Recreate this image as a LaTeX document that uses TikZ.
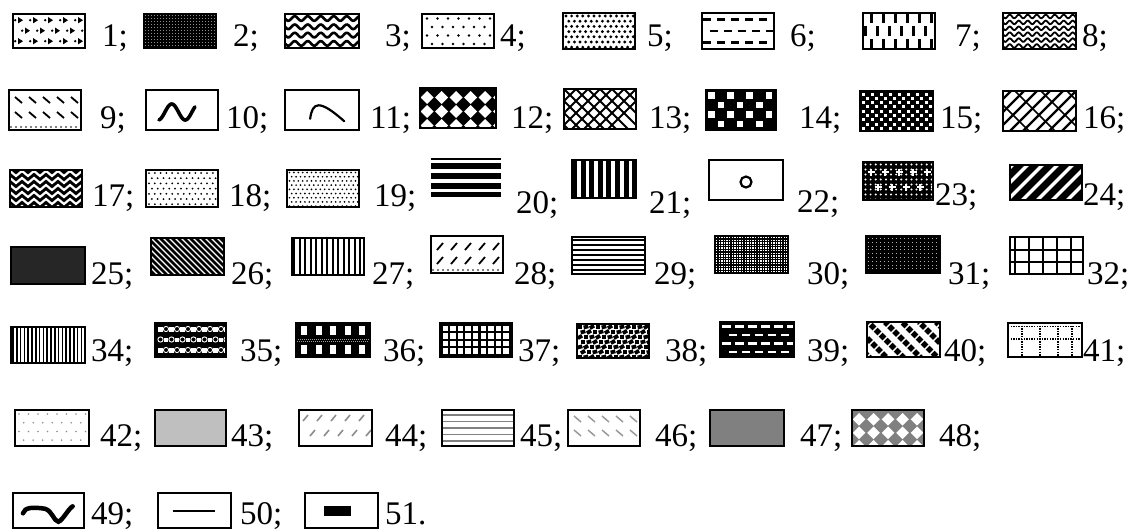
\documentclass[tikz,border=0pt]{standalone}
\usepackage{fontspec}
\setmainfont{Liberation Serif}
\tikzset{
  bline/.style={line width=2.6pt},
  thinline/.style={line width=1.8pt},
  lab/.style={anchor=base west, inner sep=0pt, outer sep=0pt, font=\fontsize{33}{33}\selectfont},
}
% #1 border style, #2 name, #3 x, #4 y(top), #5 w, #6 h, #7 pattern
\newcommand{\legbox}[7][bline]{%
  \begin{scope}[shift={(#3,#4)}]
    \def\W{#5}\def\H{#6}%
    \begin{scope}
      \clip (0,0) rectangle (#5,#6);
      \fill[white] (0,0) rectangle (#5,#6);
      #7
    \end{scope}
    \draw[#1] (0,0) rectangle (#5,#6);
    \coordinate (#2) at (0,0);
  \end{scope}}
\begin{document}
\begin{tikzpicture}[x=1pt,y=-1pt]
\useasboundingbox (0,0) rectangle (1145,531);
\fill[white] (0,0) rectangle (1145,531);
% ---------------- Row 1
\legbox{b1}{13}{14}{72}{34}{%
  \foreach \i in {0,...,4}{\foreach \j in {0,...,2}{
    \fill ({5+\i*15+mod(\j,2)*7},{3+\j*10.5}) -- ++(5,3.2) -- ++(-5,3.2) -- cycle;
    \fill ({2.2+\i*15+mod(\j,2)*7},{6.2+\j*10.5}) circle (1.3);}}}
\node[lab] (t1) at (102,46) {1;};
\legbox{b2}{144}{14}{72}{34}{%
  \fill (0,0) rectangle (\W,\H);
  \foreach \i in {0,...,24}{\foreach \j in {0,...,11}{
    \fill[white!55!black] ({1+\i*3},{1+\j*3}) rectangle ++(1.3,1.3);}}}
\node[lab] (t2) at (233,46) {2;};
\legbox{b3}{285}{14}{74}{34}{%
  \foreach \j in {0,...,3}{\draw[line width=2.6] plot[domain=-2:80,samples=70,smooth] (\x,{4.5+\j*8.3+2.3*sin(\x*27.69)});}}
\node[lab] (t3) at (385,46) {3;};
\legbox{b4}{422}{14}{72}{34}{%
  \foreach \i in {0,...,6}{\foreach \j in {0,...,3}{
    \fill ({5+\i*10.5+mod(\j,2)*5},{4.5+\j*8.5}) circle (1.3);}}}
\node[lab] (t4) at (500,46) {4;};
\legbox{b5}{563}{13}{72}{36}{%
  \foreach \i in {0,...,12}{\foreach \j in {0,...,6}{
    \fill ({3+\i*5.6+mod(\j,2)*2.8},{3+\j*5.2}) circle (1.6);}}}
\node[lab] (t5) at (647,46) {5;};
\legbox{b6}{702}{13}{72}{36}{%
  \foreach \j/\o in {0/0,1/7,2/0}{\foreach \i in {0,...,5}{
    \fill ({\o+1+\i*14},{5+\j*11.5}) rectangle ++(8,2.8);}}}
\node[lab] (t6) at (790,46) {6;};
\legbox{b7}{863}{13}{72}{36}{%
  \foreach \i in {0,...,5}{
    \fill ({7+\i*12},0) rectangle ++(2.8,10);
    \fill ({1+\i*12},13) rectangle ++(2.8,10);
    \fill ({7+\i*12},26) rectangle ++(2.8,10);}}
\node[lab] (t7) at (955,46) {7;};
\legbox{b8}{1003}{13}{73}{36}{%
  \foreach \j in {0,...,5}{\draw[line width=1.8] plot[domain=-2:80,samples=80,smooth] (\x,{3.5+\j*5.9+1.8*sin(\x*40)});}}
\node[lab] (t8) at (1082,46) {8;};
% ---------------- Row 2
\legbox{b9}{9}{90}{72}{40}{%
  \foreach \i in {0,...,4}{\foreach \j in {0,1}{
    \draw[line width=1.8] ({6+\i*14},{7+\j*15}) -- ++(7,6);}}
  \foreach \i in {0,...,14}{\fill ({2+\i*5},{\H-3}) circle (0.9);}}
\node[lab] (t9) at (100,128) {9;};
\legbox{b10}{146}{90}{72}{40}{%
  \draw[line width=3.6, line cap=round] plot[domain=-80:400,samples=60,smooth] ({0.18*\W+0.5*\W*((\x+80)/480)},{0.55*\H-0.2*\H*sin(\x)});}
\node[lab] (t10) at (226,128) {10;};
\legbox{b11}{285}{90}{74}{40}{%
  \draw[line width=2.2, line cap=round] ({0.34*\W},{0.72*\H}) .. controls ({0.37*\W},{0.3*\H}) and ({0.46*\W},{0.22*\H}) .. ({0.8*\W},{0.78*\H});}
\node[lab] (t11) at (370,128) {11;};
\legbox{b12}{420}{88}{76}{40}{%
  \fill (0,0) rectangle (\W,\H);
  \foreach \i in {0,...,5}{\foreach \j in {0,...,2}{
    \fill[white] ({7+\i*14.5},{3+\j*14}) -- ++(6.5,6.5) -- ++(-6.5,6.5) -- ++(-6.5,-6.5) -- cycle;}}}
\node[lab] (t12) at (511,128) {12;};
\legbox{b13}{564}{89}{72}{40}{%
  \foreach \k in {-48,-36,...,84}{\draw[line width=2] (\k,0) -- ++(45,45); \draw[line width=2] (\k,0) -- ++(-45,45);}}
\node[lab] (t13) at (649,128) {13;};
\legbox{b14}{706}{90}{70}{40}{%
  \fill (0,0) rectangle (\W,\H);
  \foreach \i in {0,...,7}{\foreach \j in {0,...,4}{
    \pgfmathtruncatemacro\m{mod(\i+\j,2)}
    \ifnum\m=0 \fill[white] ({2+\i*9.6},{2+\j*9.5}) rectangle ++(6.5,6.5);\fi}}}
\node[lab] (t14) at (799,128) {14;};
\legbox{b15}{860}{91}{73}{40}{%
  \fill (0,0) rectangle (\W,\H);
  \foreach \i in {0,...,16}{\foreach \j in {0,...,9}{
    \pgfmathtruncatemacro\m{mod(\i+\j,2)}
    \ifnum\m=0 \fill[white] ({1.5+\i*4.5},{1.5+\j*4.3}) rectangle ++(3,3);\fi}}}
\node[lab] (t15) at (940,128) {15;};
\legbox{b16}{1003}{91}{73}{40}{%
  \foreach \k in {-45,-32,...,80}{\draw[line width=2.2] (\k,\H) -- ++(45,-45);}
  \foreach \k in {-40,-14,...,100}{\draw[line width=1.5] (\k,0) -- ++(45,45);}}
\node[lab] (t16) at (1083,128) {16;};
% ---------------- Row 3
\legbox{b17}{10}{170}{72}{37}{%
  \fill (0,0) rectangle (\W,\H);
  \foreach \j in {0,...,5}{\draw[white,line width=2.2] (0,{1+\j*7}) \foreach \i in {1,...,13}{ -- ({\i*6},{1+\j*7+mod(\i,2)*5})};}}
\node[lab] (t17) at (92,206) {17;};
\legbox{b18}{146}{170}{72}{37}{%
  \foreach \i in {0,...,12}{\foreach \j in {0,...,6}{
    \fill ({3+\i*5.8+mod(\j,2)*2.9},{3+\j*5.2}) circle (1.0);}}}
\node[lab] (t18) at (229,206) {18;};
\legbox{b19}{287}{170}{72}{37}{%
  \foreach \i in {0,...,16}{\foreach \j in {0,...,8}{
    \fill ({2.5+\i*4.4+mod(\j,2)*2.2},{2.5+\j*4.2}) circle (0.95);}}}
\node[lab] (t19) at (374,206) {19;};
\legbox[draw=none]{b20}{431}{158}{70}{39}{%
  \fill (0,0) rectangle (\W,\H);
  \foreach \y/\h in {1.5/3.5,10.5/4.5,20.5/4.5,30.5/3.5}{\fill[white] (0,\y) rectangle (\W,{\y+\h});}}
\node[lab] (t20) at (516,213) {20;};
\legbox{b21}{572}{160}{64}{38}{%
  \foreach \i in {0,...,7}{\fill ({\i*8.6},0) rectangle ++(5,\H);}}
\node[lab] (t21) at (649,213) {21;};
\legbox[thinline]{b22}{709}{160}{74}{40}{%
  \draw[line width=2.2] ({0.5*\W},{0.55*\H}) circle (5.5);}
\node[lab] (t22) at (797,212) {22;};
\legbox{b23}{863}{162}{70}{38}{%
  \fill (0,0) rectangle (\W,\H);
  \foreach \i in {0,...,13}{\foreach \j in {0,...,7}{
    \fill[white] ({2.5+\i*5.1},{2.5+\j*5}) circle (1.1);}}
  \foreach \i in {0,...,4}{\foreach \j in {0,1}{
    \draw[white,line width=1.6] ({8+\i*14+mod(\j,2)*7-3.5},{10+\j*15}) -- ++(7,0) ({8+\i*14+mod(\j,2)*7},{6.5+\j*15}) -- ++(0,7);}}}
\node[lab] (t23) at (935,205) {23;};
\legbox{b24}{1010}{165}{72}{35}{%
  \foreach \k in {-45,-30,...,90}{\draw[line width=7] (\k,{\H+5}) -- ++(50,-50);}}
\node[lab] (t24) at (1083,205) {24;};
% ---------------- Row 4
\legbox{b25}{11}{247}{74}{37}{%
  \fill[black!85] (0,0) rectangle (\W,\H);}
\node[lab] (t25) at (91,284) {25;};
\legbox{b26}{151}{238}{73}{37}{%
  \foreach \k in {-45,-39,...,80}{\draw[line width=2.8] (\k,0) -- ++(45,45);}}
\node[lab] (t26) at (231,284) {26;};
\legbox{b27}{292}{238}{72}{37}{%
  \foreach \x in {2,7.5,...,75}{\draw[line width=2] (\x,0) -- (\x,\H);}}
\node[lab] (t27) at (372,284) {27;};
\legbox{b28}{431}{236}{72}{37}{%
  \foreach \i in {0,...,4}{\foreach \j in {0,1}{
    \draw[line width=1.8] ({6+\i*14},{14+\j*14}) -- ++(6,-7);}}
  \foreach \i in {0,...,14}{\fill ({2+\i*5},{\H-3}) circle (0.9);}}
\node[lab] (t28) at (514,284) {28;};
\legbox{b29}{572}{237}{73}{37}{%
  \foreach \y in {3,8,...,36}{\draw[line width=2.6] (0,\y) -- (\W,\y);}}
\node[lab] (t29) at (654,284) {29;};
\legbox{b30}{715}{236}{73}{37}{%
  \fill (0,0) rectangle (\W,\H);
  \foreach \i in {0,...,28}{\foreach \j in {0,...,14}{
    \fill[white] ({1+\i*2.6},{1+\j*2.6}) rectangle ++(1.4,1.4);}}}
\node[lab] (t30) at (807,284) {30;};
\legbox{b31}{866}{236}{74}{37}{%
  \fill (0,0) rectangle (\W,\H);
  \foreach \i in {0,...,18}{\foreach \j in {0,...,9}{
    \fill[white!70!black] ({2+\i*4},{2+\j*3.8}) rectangle ++(0.9,0.9);}}}
\node[lab] (t31) at (948,284) {31;};
\legbox{b32}{1010}{237}{73}{37}{%
  \foreach \x in {5,19,...,75}{\draw[line width=1.5] (\x,0) -- (\x,\H);}
  \foreach \y in {13,25}{\draw[line width=1.5] (0,\y) -- (\W,\y);}}
\node[lab] (t32) at (1087,284) {32;};
% ---------------- Row 5
\legbox{b34}{11}{327}{74}{36}{%
  \foreach \x in {2,5.8,...,75}{\draw[line width=1.6] (\x,0) -- (\x,\H);}}
\node[lab] (t34) at (91,361) {34;};
\legbox{b35}{155}{323}{71}{34}{%
  \fill (0,0) rectangle (\W,\H);
  \foreach \i in {0,...,6}{\foreach \j in {0,...,2}{
    \fill[white] ({3+\i*11+mod(\j,2)*5.5},{4+\j*10.5}) rectangle ++(4.5,4.5);
    \draw[white,line width=0.9] ({11+\i*11-mod(\j,2)*5.5},{6+\j*10.5}) circle (2.6);}}}
\node[lab] (t35) at (240,361) {35;};
\legbox{b36}{296}{323}{74}{34}{%
  \fill (0,0) rectangle (\W,\H);
  \foreach \i in {0,...,4}{
    \fill[white] ({5+\i*14.5},3) rectangle ++(6,9);
    \fill[white] ({5+\i*14.5},{\H-12}) rectangle ++(6,9);}
  \foreach \i in {0,...,36}{\fill[white!60!black] ({\i*2},15.5) rectangle ++(1.1,1.1); \fill[white!60!black] ({1+\i*2},18) rectangle ++(1.1,1.1);}}
\node[lab] (t36) at (383,361) {36;};
\legbox{b37}{440}{323}{72}{34}{%
  \fill (0,0) rectangle (\W,\H);
  \foreach \i in {0,...,8}{\foreach \j in {0,...,3}{
    \fill[white] ({2.5+\i*7.6},{2.5+\j*7.6}) rectangle ++(5.4,5.4);}}}
\node[lab] (t37) at (518,361) {37;};
\legbox{b38}{577}{324}{72}{34}{%
  \foreach \i in {0,...,11}{\foreach \j in {0,...,6}{
    \pgfmathsetmacro\ang{mod(\i+\j,3)*15}
    \fill[rotate around={\ang:({3+\i*6+mod(\j,2)*3},{3+\j*5})}] ({0.6+\i*6+mod(\j,2)*3},{1+\j*5}) rectangle ++(4.8,3.8);}}}
\node[lab] (t38) at (665,361) {38;};
\legbox{b39}{720}{322}{74}{35}{%
  \fill (0,0) rectangle (\W,\H);
  \foreach \j/\o in {0/0,1/6.5,2/0,3/6.5}{\foreach \i in {0,...,6}{
    \fill[white] ({\o+2+\i*13},{3+\j*8.5}) rectangle ++(8.5,2.8);}}}
\node[lab] (t39) at (807,361) {39;};
\legbox{b40}{867}{322}{73}{35}{%
  \foreach \k in {-50,-33,...,90}{\draw[line width=5.5] (\k,0) -- ++(45,45);}
  \foreach \k in {-40,-30,...,110}{\draw[white,line width=1.4] (\k,\H) -- ++(45,-45);}}
\node[lab] (t40) at (944,361) {40;};
\legbox{b41}{1008}{323}{74}{34}{%
  \foreach \y in {3.5,16}{\draw[line width=1.1, dash pattern=on 1.3 off 1.3] (0,\y) -- (\W,\y);}
  \foreach \x in {14,32,50,64}{\draw[line width=1.1, dash pattern=on 1.3 off 1.3] (\x,0) -- (\x,\H);}}
\node[lab] (t41) at (1083,361) {41;};
% ---------------- Row 6
\legbox{b42}{15}{410}{74}{36}{%
  \foreach \i in {0,...,7}{\foreach \j in {0,...,3}{
    \fill[black!45] ({4+\i*9.5+mod(\j,2)*4.7},{4+\j*8.7}) circle (0.9);}}}
\node[lab] (t42) at (100,446) {42;};
\legbox{b43}{155}{410}{71}{36}{%
  \fill[black!25] (0,0) rectangle (\W,\H);}
\node[lab] (t43) at (231,446) {43;};
\legbox{b44}{299}{410}{73}{36}{%
  \foreach \i in {0,...,5}{\foreach \j in {0,1}{
    \draw[black!45,line width=1.6] ({4+\i*14+mod(\j,2)*7},{11+\j*15}) -- ++(5,-6);}}}
\node[lab] (t44) at (385,446) {44;};
\legbox{b45}{442}{410}{72}{36}{%
  \foreach \y in {5,11.5,...,33}{\draw[black!50,line width=1.8] (0,\y) -- (\W,\y);}}
\node[lab] (t45) at (520,446) {45;};
\legbox{b46}{568}{410}{72}{36}{%
  \foreach \i in {0,...,4}{\foreach \j in {0,1}{
    \draw[black!40,line width=1.5] ({6+\i*14},{6+\j*14}) -- ++(7,6);}}}
\node[lab] (t46) at (655,446) {46;};
\legbox{b47}{710}{410}{74}{36}{%
  \fill[black!50] (0,0) rectangle (\W,\H);}
\node[lab] (t47) at (800,446) {47;};
\legbox{b48}{852}{410}{72}{36}{%
  \fill[black!50] (0,0) rectangle (\W,\H);
  \foreach \i in {0,...,5}{\foreach \j in {0,...,2}{
    \fill[white] ({7+\i*14.5},{3+\j*13.5}) -- ++(6.3,6.3) -- ++(-6.3,6.3) -- ++(-6.3,-6.3) -- cycle;}}}
\node[lab] (t48) at (939,446) {48;};
% ---------------- Row 7
\legbox{b49}{13}{493}{71}{35}{%
  \draw[line width=4.5, line cap=round] ({0.14*\W},{0.58*\H}) .. controls ({0.16*\W},{0.4*\H}) and ({0.3*\W},{0.4*\H}) .. ({0.45*\W},{0.45*\H}) .. controls ({0.55*\W},{0.5*\H}) and ({0.58*\W},{0.82*\H}) .. ({0.64*\W},{0.82*\H}) .. controls ({0.7*\W},{0.78*\H}) and ({0.78*\W},{0.45*\H}) .. ({0.84*\W},{0.38*\H});}
\node[lab] (t49) at (91,524) {49;};
\legbox{b50}{158}{493}{73}{35}{%
  \draw[line width=2] ({0.2*\W},{0.5*\H}) -- ({0.78*\W},{0.5*\H});}
\node[lab] (t50) at (240,524) {50;};
\legbox{b51}{305}{493}{73}{35}{%
  \fill ({0.26*\W},{0.38*\H}) rectangle ({0.63*\W},{0.66*\H});}
\node[lab] (t51) at (385,524) {51.};
\end{tikzpicture}
\end{document}
